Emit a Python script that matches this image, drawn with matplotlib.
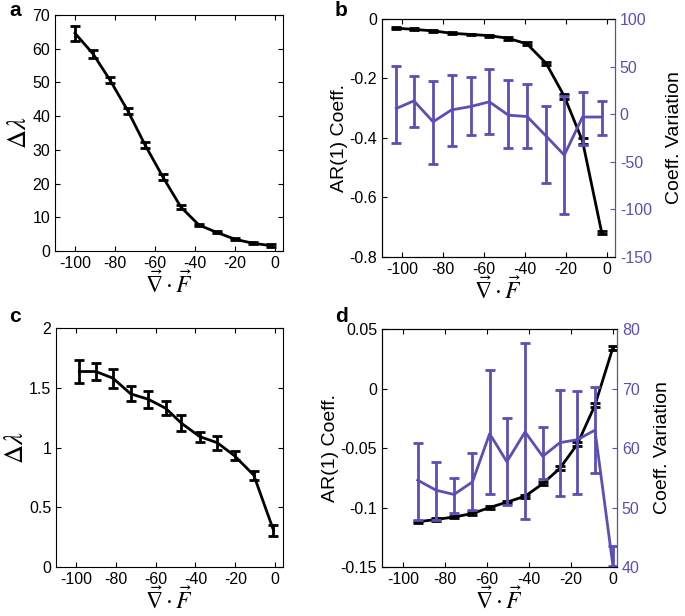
import numpy as np
import matplotlib
matplotlib.use("Agg")
import matplotlib.pyplot as plt

plt.rcParams['font.family'] = ['Liberation Sans', 'DejaVu Sans']
plt.rcParams['mathtext.fontset'] = 'stix'
plt.rcParams['axes.unicode_minus'] = False
plt.rcParams['xtick.direction'] = 'in'
plt.rcParams['ytick.direction'] = 'in'

blue = '#5a4fb5'

# panel a
xa = [-100, -91, -82.5, -73.5, -65, -56, -47, -38, -29, -20, -11, -2]
ya = [64.6, 58.5, 50.7, 41.5, 31.5, 21.9, 13.0, 7.7, 5.5, 3.5, 2.3, 1.6]
ea = [2.2, 1.2, 1.0, 1.0, 0.8, 0.8, 0.6, 0.4, 0.3, 0.3, 0.3, 0.4]

# panel b
xb = [-103, -94.4, -85, -76, -66.7, -57.5, -48.2, -39, -29.7, -20.8, -11.9, -2.5]
ar_b = [-0.031, -0.035, -0.040, -0.048, -0.052, -0.056, -0.065, -0.084, -0.149, -0.26, -0.41, -0.718]
ar_b_err = [0.003, 0.003, 0.003, 0.003, 0.003, 0.003, 0.004, 0.005, 0.006, 0.008, 0.010, 0.006]
cv_b = [6, 14, -8, 4.5, 8, 13, -1, -2.5, -23, -43, -3, -3]
cv_b_lo = [36, 27, 44, 37.5, 30, 34, 35, 33.5, 49, 62, 29, 19]
cv_b_hi = [45, 26, 43, 36.5, 31, 34, 37, 34.5, 32, 62, 26, 17]

# panel c
xc = [-98.3, -90, -81.4, -72.5, -63.7, -55, -47, -37.8, -29, -20.3, -10.7, -0.8]
yc = [1.636, 1.636, 1.58, 1.449, 1.404, 1.329, 1.203, 1.091, 1.04, 0.93, 0.769, 0.308]
ec = [0.1, 0.075, 0.08, 0.063, 0.07, 0.06, 0.065, 0.042, 0.058, 0.038, 0.037, 0.047]

# panel d
xd = [-93, -84.2, -75.7, -66.9, -58.7, -50.5, -41.8, -33.4, -25.2, -16.9, -8.5, 0]
ar_d = [-0.112, -0.110, -0.108, -0.105, -0.100, -0.0955, -0.0905, -0.080, -0.067, -0.0468, -0.014, 0.034]
ar_d_err = [0.001, 0.001, 0.001, 0.001, 0.001, 0.001, 0.0012, 0.0012, 0.0015, 0.0015, 0.0015, 0.0015]
cv_d = [54.6, 52.9, 52.2, 54.3, 62.4, 57.7, 62.7, 58.6, 60.9, 61.4, 63.0, 40.4]
cv_d_lo = [6.7, 5.0, 3.2, 4.7, 10.1, 7.2, 14.6, 3.8, 8.9, 9.1, 7.2, 0.3]
cv_d_hi = [6.2, 4.8, 2.8, 4.9, 10.7, 7.4, 14.9, 5.0, 8.8, 8.1, 7.2, 3.2]

fig = plt.figure(figsize=(6.85, 6.16), dpi=100)

xlabel = r'$\vec{\nabla}\cdot\vec{F}$'
fs = 11.5
lfs = 14


def style(ax):
    ax.tick_params(labelsize=fs, length=3.5, top=True, right=True)
    ax.set_xlim(-110, 4)
    ax.set_xticks([-100, -80, -60, -40, -20, 0])
    ax.set_xlabel(xlabel, fontsize=17, labelpad=0)


def eb(ax, x, y, e, color):
    ax.errorbar(x, y, yerr=e, color=color, lw=2, elinewidth=2, capsize=3.5, capthick=2)


ax = fig.add_axes([0.0803, 0.5925, 0.3328, 0.3831])
eb(ax, xa, ya, ea, 'black')
style(ax)
ax.set_ylim(0, 70)
ax.set_yticks(range(0, 71, 10))
ax.set_ylabel(r'$\Delta\lambda$', fontsize=19, labelpad=1)

ax = fig.add_axes([0.5577, 0.5828, 0.3401, 0.3864])
eb(ax, xb, ar_b, ar_b_err, 'black')
style(ax)
ax.tick_params(right=False)
ax.set_ylim(-0.8, 0)
ax.set_yticks([-0.8, -0.6, -0.4, -0.2, 0])
ax.set_yticklabels(['-0.8', '-0.6', '-0.4', '-0.2', '0'])
ax.set_ylabel('AR(1) Coeff.', fontsize=lfs, labelpad=1)
ax2 = ax.twinx()
eb(ax2, xb, cv_b, [cv_b_lo, cv_b_hi], blue)
ax2.set_ylim(-150, 100)
ax2.set_yticks(range(-150, 101, 50))
ax2.tick_params(labelsize=fs, length=3.5, colors=blue, direction='in')
ax2.spines['right'].set_color(blue)
ax2.set_ylabel('Coeff. Variation', fontsize=lfs, color='black', labelpad=10)

ax = fig.add_axes([0.0818, 0.0795, 0.3314, 0.388])
eb(ax, xc, yc, ec, 'black')
style(ax)
ax.set_ylim(0, 2)
ax.set_yticks([0, 0.5, 1, 1.5, 2])
ax.set_yticklabels(['0', '0.5', '1', '1.5', '2'])
ax.set_ylabel(r'$\Delta\lambda$', fontsize=19, labelpad=1)

ax = fig.add_axes([0.5577, 0.0795, 0.343, 0.3864])
eb(ax, xd, ar_d, ar_d_err, 'black')
style(ax)
ax.set_xlim(-110, 2)
ax.tick_params(right=False)
ax.set_ylim(-0.15, 0.05)
ax.set_yticks([-0.15, -0.1, -0.05, 0, 0.05])
ax.set_yticklabels(['-0.15', '-0.1', '-0.05', '0', '0.05'])
ax.set_ylabel('AR(1) Coeff.', fontsize=lfs, labelpad=1)
ax2 = ax.twinx()
eb(ax2, xd, cv_d, [cv_d_lo, cv_d_hi], blue)
ax2.set_ylim(40, 80)
ax2.set_yticks(range(40, 81, 10))
ax2.tick_params(labelsize=fs, length=3.5, colors=blue, direction='in')
ax2.spines['right'].set_color(blue)
ax2.set_ylabel('Coeff. Variation', fontsize=lfs, color='black', labelpad=10)

for lbl, (px, py) in zip('abcd', [(9, 16), (335, 16), (9, 322), (335, 322)]):
    fig.text(px / 685, 1 - py / 616, lbl, fontsize=15, fontweight='bold')

fig.savefig('out.png', dpi=100)
